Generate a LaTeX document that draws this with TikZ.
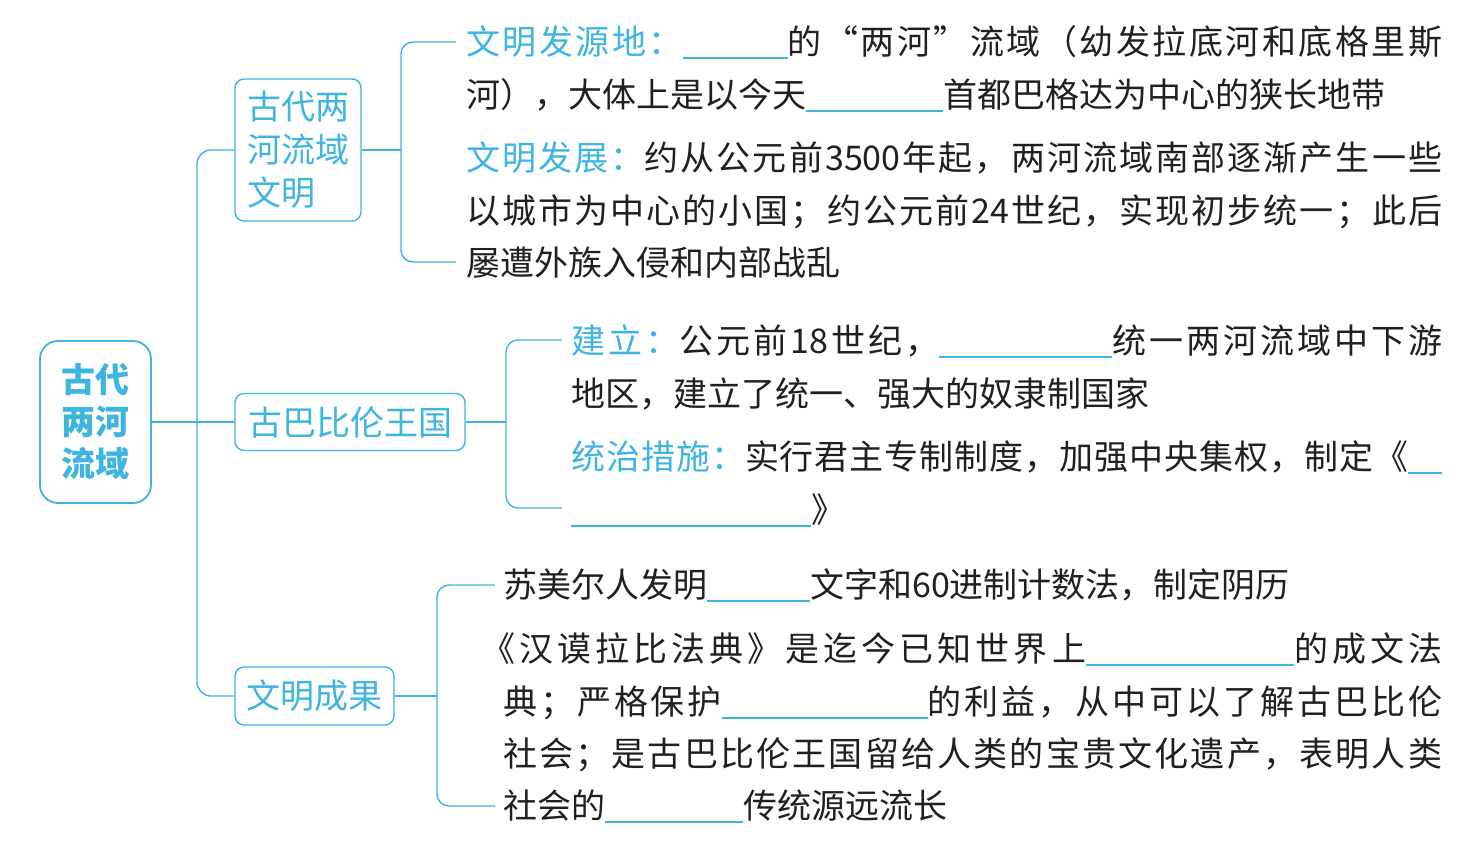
\documentclass[tikz,border=0pt]{standalone}
\usepackage{fontspec}
\setmainfont{Noto Sans CJK SC}
\usetikzlibrary{positioning}
\definecolor{mindcyan}{RGB}{62,180,224}
\definecolor{inkgray}{RGB}{35,31,32}
% stretchable glue between characters, none inside numbers
\XeTeXinterchartokenstate=1
\XeTeXcharclass`0=3 \XeTeXcharclass`1=3 \XeTeXcharclass`2=3 \XeTeXcharclass`3=3 \XeTeXcharclass`4=3
\XeTeXcharclass`5=3 \XeTeXcharclass`6=3 \XeTeXcharclass`7=3 \XeTeXcharclass`8=3 \XeTeXcharclass`9=3
\XeTeXinterchartoks 0 0 = {\hskip 0pt plus 10pt\relax}
\XeTeXinterchartoks 0 3 = {\hskip 0pt plus 10pt\relax}
\XeTeXinterchartoks 3 0 = {\hskip 0pt plus 10pt\relax}
\newcommand{\fillblank}[1]{{\color{mindcyan}\rule[-4.5pt]{#1pt}{1.6pt}}}
\newcommand{\cyantxt}[1]{{\color{mindcyan}#1}}
\newcommand{\fullline}[2]{\hbox to #1pt{#2}}

\begin{document}
\begin{tikzpicture}[x=1pt, y=-1pt,
    rootbox/.style={draw=mindcyan, line width=1.8pt, rounded corners=18pt,
        text=mindcyan, font=\fontsize{34}{42}\selectfont\bfseries, align=center,
        minimum width=111pt, minimum height=162pt, inner sep=0pt},
    subbox/.style={draw=mindcyan, line width=1.4pt, rounded corners=9pt,
        text=mindcyan, font=\fontsize{34}{43}\selectfont, align=left, inner sep=0pt},
    link/.style={draw=mindcyan, line width=1.4pt},
    txt/.style={anchor=base west, inner sep=0pt, text=inkgray,
        font=\fontsize{34}{40}\selectfont}]
    \useasboundingbox (0,0) rectangle (1480,849);

    % boxes
    \node[rootbox] (root) at (95.5,422) {古代\\两河\\流域};
    \node[subbox, minimum width=126pt, minimum height=142pt] (civ) at (298,150) {古代两\\河流域\\文明};
    \node[subbox, minimum width=230pt, minimum height=57pt] (babylon) at (350,422) {古巴比伦王国};
    \node[subbox, minimum width=159pt, minimum height=58pt] (achieve) at (314.5,696) {文明成果};

    % trunk and brackets
    \coordinate (trunk) at (197,0);
    \coordinate (br1) at (401,0);
    \coordinate (br2) at (506,0);
    \coordinate (br3) at (437,0);
    \coordinate (e1a) at (456,42);   % group 1 top
    \coordinate (e1b) at (456,262);  % group 1 bottom
    \coordinate (e2a) at (562,340);  % group 2 top
    \coordinate (e2b) at (562,508);  % group 2 bottom
    \coordinate (e3a) at (495,585);  % group 3 top
    \coordinate (e3b) at (495,806);  % group 3 bottom

    \draw[link] (root.east) -- (babylon.west);
    \draw[link, rounded corners=14pt] (civ.west) -- (civ.west -| trunk) -- (achieve.west -| trunk) -- (achieve.west);
    \draw[link] (civ.east) -- (civ.east -| br1);
    \draw[link, rounded corners=12pt] (e1a) -- (e1a -| br1) -- (e1b -| br1) -- (e1b);
    \draw[link] (babylon.east) -- (babylon.east -| br2);
    \draw[link, rounded corners=12pt] (e2a) -- (e2a -| br2) -- (e2b -| br2) -- (e2b);
    \draw[link] (achieve.east) -- (achieve.east -| br3);
    \draw[link, rounded corners=12pt] (e3a) -- (e3a -| br3) -- (e3b -| br3) -- (e3b);

    % group 1: civilisation
    \node[txt] (c1) at (466,54) {\fullline{976}{\cyantxt{文明发源地：}\fillblank{105}的“两河”流域（幼发拉底河和底格里斯}};
    \node[txt] (c2) at (466,107) {河），大体上是以今天\fillblank{137}首都巴格达为中心的狭长地带};
    \node[txt] (c3) at (466,170) {\fullline{976}{\cyantxt{文明发展：}约从公元前3500年起，两河流域南部逐渐产生一些}};
    \node[txt] (c4) at (466,223) {\fullline{976}{以城市为中心的小国；约公元前24世纪，实现初步统一；此后}};
    \node[txt] (c5) at (466,275) {屡遭外族入侵和内部战乱};

    % group 2: Babylon
    \node[txt] (k1) at (571,353) {\fullline{871}{\cyantxt{建立：}公元前18世纪，\fillblank{173}统一两河流域中下游}};
    \node[txt] (k2) at (571,406) {地区，建立了统一、强大的奴隶制国家};
    \node[txt] (k3) at (571,469) {\fullline{871}{\cyantxt{统治措施：}实行君主专制制度，加强中央集权，制定《\fillblank{34}}};
    \node[txt] (k4) at (571,522) {\fillblank{240}》};

    % group 3: achievements
    \node[txt] (a1) at (503,597) {苏美尔人发明\fillblank{103}文字和60进制计数法，制定阴历};
    \node[txt] (a2) at (481,661) {\fullline{961}{《汉谟拉比法典》是迄今已知世界上\fillblank{208}的成文法}};
    \node[txt] (a3) at (503,714) {\fullline{939}{典；严格保护\fillblank{206}的利益，从中可以了解古巴比伦}};
    \node[txt] (a4) at (503,766) {\fullline{939}{社会；是古巴比伦王国留给人类的宝贵文化遗产，表明人类}};
    \node[txt] (a5) at (503,818) {社会的\fillblank{138}传统源远流长};
\end{tikzpicture}
\end{document}
